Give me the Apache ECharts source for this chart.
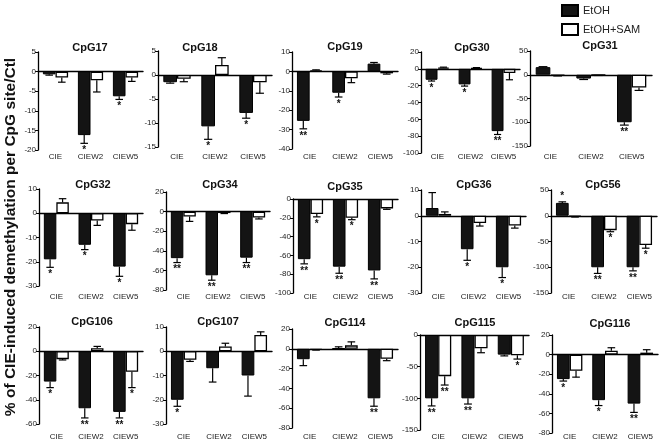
<!DOCTYPE html>
<html><head><meta charset="utf-8">
<script src="https://cdn.jsdelivr.net/npm/echarts@6/dist/echarts.min.js"></script>
<style>html,body{margin:0;padding:0;background:#fff}#c{width:662px;height:447px}</style>
</head><body><div id="c"></div>
<script>
// ---------- data ----------
const categories = ['CIE', 'CIEW2', 'CIEW5'];
const panelNames = ['CpG17','CpG18','CpG19','CpG30','CpG31',
                    'CpG32','CpG34','CpG35','CpG36','CpG56',
                    'CpG106','CpG107','CpG114','CpG115','CpG116'];
const etoh = [
  [-0.7,-16.2,-6.3],[-1.5,-10.7,-7.9],[-25.5,-11,4],[-13,-18.5,-74],[16,-8,-100],
  [-19,-13,-22],[-47.5,-65,-47],[-64,-72,-76],[3,-13,-20],[25,-100,-100],
  [-25,-47,-50],[-20,-7,-10],[-10.5,0.3,-50],[-100,-100,-31],[-25,-46.5,-50]
];
const etohErr = [
  [-0.9,-18.3,-7.1],[-1.7,-13.4,-9.0],[-29.6,-13.2,4.6],[-14.5,-20.5,-78],[17,-10,-106],
  [-22.3,-15,-26],[-52,-70,-52],[-69,-79,-85],[9,-17.3,-24],[27,-112,-107],
  [-30,-55,-55],[-22.7,-12.7,-18.5],[-17,2,-58],[-112,-109,-33],[-27,-52,-59]
];
const sam = [
  [-1.5,-2.2,-1.5],[-0.8,2.1,-1.5],[0.6,-3.5,-1],[1.5,1,-5],[-2,-1,-27],
  [4.5,-3,-4.5],[-5,-1.5,-6],[-16,-20,-10],[0.7,-2.8,-3.8],[-2,-28,-57],
  [-6.5,2.5,-17],[-3.5,2,6.7],[-1,3.5,-10],[-65,-21,-32],[-16.5,4,2]
];
const samErr = [
  [-2.7,-5.2,-2.5],[-1.4,3.6,-3.8],[0.8,-5.8,-1.4],[2,1.5,-13],[-2.5,-1.5,-33],
  [6,-5,-7],[-10,-2,-7.5],[-19,-22,-11],[1.5,-4,-4.8],[-2.5,-31,-63],
  [-7.2,4,-30],[-4.2,3.3,8],[-1.3,7,-12],[-79,-28,-38],[-23,7,5]
];
const etohStars = [
  ['','*','*'],['','*','*'],['**','*',''],['*','*','**'],['','','**'],
  ['*','*','*'],['**','**','**'],['**','**','**'],['','*','*'],['*','**','**'],
  ['*','**','**'],['*','',''],['','','**'],['**','**',''],['*','*','**']
];
const samStars = [
  ['','',''],['','',''],['','',''],['','',''],['','',''],
  ['','',''],['','',''],['*','*',''],['','',''],['','*','*'],
  ['','','*'],['','',''],['','',''],['**','','*'],['','','']
];
const yMin = [-20,-15,-40,-100,-150, -30,-80,-100,-30,-150, -60,-30,-80,-150,-80];
const yMax = [5,5,10,20,50, 10,20,0,10,50, 20,10,20,0,20];
const yStep = [5,5,10,20,50, 10,20,20,10,50, 20,10,20,50,20];
const seriesNames = ['EtOH', 'EtOH+SAM'];
const yTitle = '% of CIE-induced demethylation per CpG site/Ctl';

// ---------- layout ----------
const boxes = [
  [38,52,143,150],[158,51,272,147],[292,52,398,149],[421,52,520,153],[530,51,652,146],
  [39,189,143,286],[166,192,270,290],[293,199,398,293],[421,190,526,293],[551,190,657,293],
  [39,327,143,424],[166,327,272,424],[292,329,398,428],[420,335,529,430],[552,335,658,433]
];
const titlePos = [
  [90,48],[200,48],[345,47],[472,48],[600,46],
  [93,185],[220,185],[345,187],[474,185],[603,185],
  [92,322],[218,322],[345,323],[475,323],[610,324]
];
const rowLabelY = [157, 297, 437];
const FONT = '"Liberation Sans", Arial, Helvetica, sans-serif';
const GAP = 0.28;

const grid = [], xAxis = [], yAxis = [], series = [], graphic = [];
panelNames.forEach((name, i) => {
  const b = boxes[i];
  grid.push({left: b[0], top: b[1], width: b[2]-b[0], height: b[3]-b[1]});
  const ly = rowLabelY[Math.floor(i/5)];
  xAxis.push({type:'category', gridIndex:i, data:categories, position:'bottom',
    axisLine:{show:false, onZero:false}, axisTick:{show:false},
    axisLabel:{fontSize:8, fontFamily:FONT, color:'#222', margin:Math.max(0, ly - b[3] - 4)}});
  xAxis.push({type:'category', gridIndex:i, data:categories, position:'top',
    axisLine:{show:true, onZero:true, lineStyle:{color:'#000', width:1.4}},
    axisTick:{show:false}, axisLabel:{show:false}});
  yAxis.push({type:'value', gridIndex:i, min:yMin[i], max:yMax[i], interval:yStep[i],
    axisLine:{show:true, lineStyle:{color:'#000', width:1.3}},
    axisTick:{show:true, length:3, lineStyle:{color:'#000', width:1}},
    axisLabel:{fontSize:8, fontFamily:FONT, color:'#222', margin:2},
    splitLine:{show:false}});
  series.push({type:'bar', name:seriesNames[0], xAxisIndex:2*i+1, yAxisIndex:i,
    data:etoh[i], barGap:'0%', barCategoryGap:(GAP*100)+'%',
    itemStyle:{color:'#141414', borderColor:'#000', borderWidth:1}});
  series.push({type:'bar', name:seriesNames[1], xAxisIndex:2*i+1, yAxisIndex:i,
    data:sam[i], barGap:'0%', barCategoryGap:(GAP*100)+'%',
    itemStyle:{color:'#fff', borderColor:'#000', borderWidth:1.3}});
  const errData = [];
  for (let j = 0; j < 3; j++) {
    errData.push([j, etoh[i][j], etohErr[i][j], 0]);
    errData.push([j, sam[i][j], samErr[i][j], 1]);
  }
  series.push({type:'custom', name:'err'+i, xAxisIndex:2*i+1, yAxisIndex:i, z:5,
    data:errData, clip:false,
    renderItem:(params, api) => {
      const cat = api.value(0), v = api.value(1), e = api.value(2), side = api.value(3);
      const band = api.size([1,0])[0];
      const bw = band*(1-GAP)/2;
      const cx = api.coord([cat,0])[0] + (side === 0 ? -bw/2 : bw/2);
      const y1 = api.coord([cat,v])[1], y2 = api.coord([cat,e])[1];
      const hw = bw*0.3;
      const children = [
        {type:'line', shape:{x1:cx,y1:y1,x2:cx,y2:y2}, style:{stroke:'#000', lineWidth:1.2}},
        {type:'line', shape:{x1:cx-hw,y1:y2,x2:cx+hw,y2:y2}, style:{stroke:'#000', lineWidth:1.2}}
      ];
      const star = (side === 0 ? etohStars : samStars)[i][cat];
      if (star) {
        const up = e > v || (e === v && v > 0);
        children.push({type:'text', style:{text:star, x:cx, y:y2 + (up ? -6 : 7),
          align:'center', verticalAlign:'middle', font:'bold 10px '+FONT, fill:'#111'}});
      }
      return {type:'group', children};
    }});
  graphic.push({type:'text', x:titlePos[i][0], y:titlePos[i][1],
    style:{text:name, align:'center', verticalAlign:'middle', font:'bold 11px '+FONT, fill:'#111'}});
});
graphic.push({type:'text', x:11, y:237, rotation:Math.PI/2,
  style:{text:yTitle, align:'center', verticalAlign:'middle', font:'bold 15.5px '+FONT, fill:'#111'}});

const chart = echarts.init(document.getElementById('c'));
chart.setOption({
  animation:false,
  backgroundColor:'#fff',
  legend:{data:seriesNames, orient:'vertical', left:561, top:4, padding:0, icon:'rect',
    itemWidth:16, itemHeight:11, itemGap:6,
    textStyle:{fontSize:11, fontFamily:FONT, color:'#222'}},
  grid, xAxis, yAxis, series, graphic
});
</script></body></html>
